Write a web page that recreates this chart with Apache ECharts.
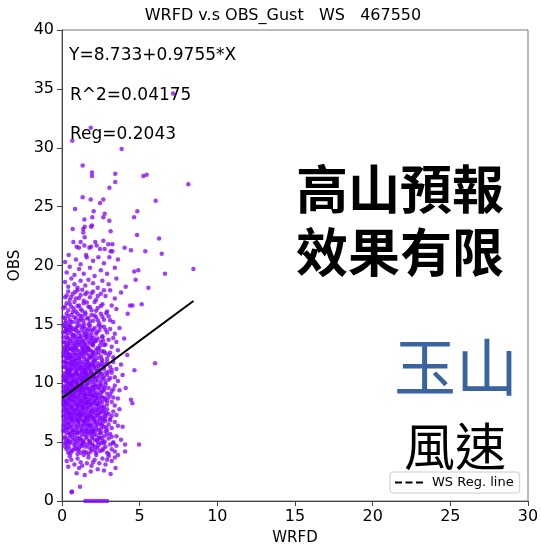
<!DOCTYPE html>
<html>
<head>
<meta charset="utf-8">
<script src="https://cdn.jsdelivr.net/npm/echarts@6/dist/echarts.min.js"></script>
<style>
  html, body { margin: 0; padding: 0; background: #fff; }
  #chart { width: 541px; height: 546px; }
</style>
</head>
<body>
<div id="chart"></div>
<script>
// WRFD forecast wind (x) vs observed gust (y), station 467550, as [WRFD, OBS] pairs
const calmGust = [
  [1.5,0],[1.7,0],[1.9,0],[2.1,0],[2.3,0],[2.5,0],[2.7,0],[2.9,0],
  [0.62,0.74],[1.16,1.2],[0.64,0.8],
  [0.94,2.35],[1.46,2.2],[1.85,2.5],[3.13,2.3],[3.45,2.8],[0.4,2.9],[2.3,2.7],[1.1,2.8],[2.7,2.6],
  [0.3,3.4],[0.5,3.8],[0.8,3.1],[1.0,3.6],[1.2,3.3],[1.4,3.9],[1.6,3.2],[1.7,3.7],[1.9,3.0],[2.1,3.5],
  [2.2,3.9],[2.4,3.2],[2.6,3.6],[2.8,3.1],[3.0,3.8],[3.2,3.4],[3.4,3.7],[1.3,3.0],[0.6,3.5],[2.0,3.3],
  [3.6,3.9],[2.9,3.5],
  [0.2,4.6],[0.4,4.1],[0.5,4.9],[0.7,4.3],[0.9,4.7],[1.0,4.0],[1.1,4.5],[1.3,4.8],[1.4,4.2],[1.5,4.6],
  [1.7,4.0],[1.8,4.9],[1.9,4.4],[2.0,4.7],[2.2,4.1],[2.3,4.5],[2.5,4.9],[2.6,4.3],[2.8,4.6],[2.9,4.1],
  [3.1,4.8],[3.2,4.4],[3.4,4.2],[3.5,4.7],[0.3,4.4],[1.2,4.1],[1.6,4.8],[2.1,4.3],[2.7,4.9],[4.06,4.2],
  [0.8,4.5],[3.0,4.0]
];

const coreGust = [
  [0.15,5.3],[0.3,5.8],[0.4,5.1],[0.5,5.5],[0.6,5.9],[0.7,5.2],[0.8,5.6],[0.9,5.0],[1.0,5.4],[1.1,5.8],
  [1.2,5.2],[1.3,5.6],[1.4,5.0],[1.5,5.9],[1.6,5.3],[1.7,5.7],[1.8,5.1],[1.9,5.5],[2.0,5.9],[2.1,5.2],
  [2.2,5.6],[2.3,5.0],[2.4,5.4],[2.5,5.8],[2.6,5.1],[2.7,5.5],[2.8,5.9],[3.0,5.3],[3.1,5.7],[3.3,5.0],
  [3.5,5.5],[0.25,5.0],[0.55,5.7],[1.05,5.1],[1.45,5.7],[1.85,5.9],[2.35,5.3],[4.96,4.8],[4.06,4.8],[3.8,5.2],
  [0.95,5.75],
  [0.1,6.4],[0.2,6.9],[0.3,6.1],[0.4,6.6],[0.5,6.3],[0.6,6.8],[0.7,6.0],[0.8,6.5],[0.9,6.9],[1.0,6.2],
  [1.1,6.7],[1.2,6.4],[1.3,6.0],[1.4,6.8],[1.5,6.3],[1.6,6.6],[1.7,6.1],[1.8,6.9],[1.9,6.4],[2.0,6.0],
  [2.1,6.7],[2.2,6.2],[2.3,6.5],[2.4,6.9],[2.5,6.1],[2.6,6.6],[2.7,6.3],[2.8,6.8],[2.9,6.0],[3.0,6.5],
  [3.2,6.2],[3.4,6.7],[3.6,6.4],[0.35,6.55],[0.65,6.25],[1.15,6.95],[1.35,6.45],[1.65,6.85],[1.95,6.15],[2.15,6.45],
  [0.85,6.05],[2.45,6.55],[0.15,6.75],[1.55,6.05],[3.9,6.3],
  [0.1,7.2],[0.2,7.7],[0.3,7.0],[0.4,7.5],[0.5,7.9],[0.6,7.3],[0.7,7.6],[0.8,7.1],[0.9,7.8],[1.0,7.4],
  [1.1,7.0],[1.2,7.7],[1.3,7.3],[1.4,7.9],[1.5,7.5],[1.6,7.1],[1.7,7.6],[1.8,7.2],[1.9,7.8],[2.0,7.4],
  [2.1,7.0],[2.2,7.7],[2.3,7.3],[2.4,7.9],[2.5,7.5],[2.6,7.1],[2.7,7.6],[2.8,7.2],[2.9,7.8],[3.0,7.4],
  [3.1,7.0],[3.3,7.6],[3.5,7.3],[0.25,7.45],[0.45,7.15],[0.65,7.85],[0.85,7.45],[1.05,7.65],[1.25,7.15],[1.45,7.35],
  [1.65,7.95],[1.85,7.55],[2.05,7.85],[2.25,7.25],[0.15,7.95],[0.55,7.55],[1.15,7.35],[3.7,7.8],[2.65,7.85],
  [0.1,8.5],[0.2,8.1],[0.3,8.8],[0.4,8.3],[0.5,8.6],[0.6,8.0],[0.7,8.9],[0.8,8.4],[0.9,8.2],[1.0,8.7],
  [1.1,8.3],[1.2,8.9],[1.3,8.5],[1.4,8.1],[1.5,8.8],[1.6,8.4],[1.7,8.0],[1.8,8.6],[1.9,8.2],[2.0,8.9],
  [2.1,8.5],[2.2,8.1],[2.3,8.7],[2.4,8.3],[2.5,8.9],[2.6,8.4],[2.7,8.0],[2.8,8.6],[2.9,8.2],[3.0,8.8],
  [3.2,8.4],[3.4,8.1],[3.6,8.7],[4.44,8.6],[4.53,8.3],[0.25,8.35],[0.45,8.95],[0.65,8.45],[0.85,8.75],[1.05,8.05],
  [1.25,8.25],[1.45,8.55],[1.65,8.85],[1.85,8.15],[2.05,8.45],[2.25,8.35],[0.35,8.15],[0.15,8.65],[1.55,8.25],[2.75,8.75],
  [0.1,9.3],[0.2,9.8],[0.3,9.1],[0.4,9.6],[0.5,9.0],[0.6,9.4],[0.7,9.9],[0.8,9.2],[0.9,9.7],[1.0,9.5],
  [1.1,9.0],[1.2,9.6],[1.3,9.2],[1.4,9.8],[1.5,9.4],[1.6,9.9],[1.7,9.1],[1.8,9.5],[1.9,9.0],[2.0,9.7],
  [2.1,9.3],[2.2,9.8],[2.3,9.0],[2.4,9.5],[2.5,9.2],[2.6,9.7],[2.7,9.4],[2.8,9.9],[2.9,9.1],[3.0,9.6],
  [3.2,9.3],[3.4,9.8],[3.7,9.4],[0.25,9.55],[0.45,9.25],[0.65,9.75],[0.85,9.45],[1.05,9.15],[1.25,9.85],[1.45,9.05],
  [1.65,9.55],[1.85,9.25],[2.05,9.05],[2.35,9.65],[0.15,9.05],[0.55,9.85],[1.15,9.45],[0.95,9.95],[3.1,9.05],[4.1,9.6],
  [0.1,10.6],[0.2,10.2],[0.3,10.9],[0.4,10.4],[0.5,10.7],[0.6,10.1],[0.7,10.5],[0.8,10.8],[0.9,10.3],[1.0,10.0],
  [1.1,10.7],[1.2,10.4],[1.3,10.9],[1.4,10.2],[1.5,10.6],[1.6,10.0],[1.7,10.8],[1.8,10.3],[1.9,10.7],[2.0,10.1],
  [2.1,10.5],[2.2,10.9],[2.3,10.2],[2.4,10.6],[2.5,10.0],[2.6,10.8],[2.7,10.4],[2.8,10.1],[2.9,10.7],[3.0,10.3],
  [3.2,10.9],[3.4,10.5],[3.6,10.2],[0.25,10.35],[0.45,10.95],[0.65,10.65],[0.85,10.15],[1.05,10.45],[1.25,10.05],[1.45,10.85],
  [1.65,10.35],[1.85,10.95],[2.15,10.25],[0.15,10.85],[0.35,10.05],[0.75,10.25],[1.35,10.55],[2.45,10.85],[3.9,10.7],
  [0.1,11.4],[0.2,11.9],[0.3,11.2],[0.4,11.7],[0.5,11.0],[0.6,11.5],[0.7,11.8],[0.8,11.3],[0.9,11.6],[1.0,11.1],
  [1.1,11.9],[1.2,11.4],[1.3,11.0],[1.4,11.7],[1.5,11.3],[1.6,11.8],[1.7,11.2],[1.8,11.6],[1.9,11.0],[2.0,11.5],
  [2.1,11.9],[2.2,11.3],[2.3,11.7],[2.4,11.1],[2.5,11.5],[2.6,11.9],[2.7,11.2],[2.8,11.6],[3.0,11.0],[3.1,11.4],
  [3.3,11.8],[3.5,11.2],[4.66,11.1],[5.99,11.7],[0.25,11.55],[0.55,11.25],[0.85,11.95],[1.15,11.55],[1.45,11.15],[1.75,11.45],
  [2.05,11.25],[0.35,11.05],[0.95,11.35],[3.8,11.6],
  [0.1,12.3],[0.2,12.8],[0.3,12.1],[0.4,12.5],[0.5,12.9],[0.6,12.2],[0.7,12.6],[0.8,12.0],[0.9,12.4],[1.0,12.8],
  [1.1,12.1],[1.2,12.5],[1.3,12.9],[1.4,12.3],[1.5,12.7],[1.6,12.0],[1.7,12.4],[1.8,12.8],[1.9,12.2],[2.0,12.6],
  [2.1,12.0],[2.2,12.5],[2.4,12.9],[2.5,12.3],[2.7,12.7],[2.9,12.1],[3.1,12.6],[3.3,12.2],[3.6,12.8],[0.25,12.65],
  [0.45,12.15],[0.75,12.85],[1.05,12.35],[1.35,12.65],[1.65,12.95],[1.95,12.45],[2.3,12.15],[0.15,12.95],[4.2,12.4],[2.8,12.55],
  [0.1,13.5],[0.2,13.1],[0.3,13.8],[0.4,13.3],[0.5,13.6],[0.6,13.0],[0.7,13.9],[0.8,13.4],[0.9,13.7],[1.0,13.2],
  [1.1,13.5],[1.2,13.9],[1.3,13.1],[1.4,13.6],[1.5,13.3],[1.6,13.8],[1.7,13.0],[1.8,13.4],[1.9,13.7],[2.0,13.2],
  [2.2,13.6],[2.3,13.0],[2.5,13.5],[2.6,13.9],[2.8,13.3],[3.0,13.7],[3.2,13.1],[3.5,13.5],[0.35,13.45],[0.85,13.05],
  [1.25,13.45],[1.55,13.95],[2.05,13.85],[4.0,13.8],[2.7,13.25],
  [0.1,14.3],[0.2,14.8],[0.3,14.0],[0.4,14.5],[0.5,14.9],[0.6,14.2],[0.7,14.6],[0.8,14.1],[0.9,14.7],[1.0,14.4],
  [1.2,14.0],[1.3,14.8],[1.4,14.3],[1.5,14.6],[1.7,14.1],[1.8,14.9],[1.9,14.4],[2.1,14.7],[2.2,14.2],[2.4,14.5],
  [2.6,14.0],[2.7,14.8],[2.9,14.3],[3.1,14.6],[3.4,14.2],[0.25,14.65],[1.1,14.95],[1.65,14.45],[2.35,14.9],[3.7,14.7]
];

// Second pass through the crowded low-WRFD block (4 to 18 m/s observed)
const coreGustFill = [
  [0.35,4.75],[0.6,4.25],[0.75,4.85],[1.05,4.3],[1.25,4.65],[1.55,4.15],[1.75,4.55],[1.95,4.85],[2.15,4.6],[2.45,4.25],
  [0.15,4.9],[0.95,4.4],[1.35,4.95],[1.85,4.2],[2.35,4.75],[0.55,4.05],[1.15,4.8],[2.65,4.45],[3.3,4.9],[0.45,4.55],
  [0.2,5.45],[0.35,5.25],[0.45,5.75],[0.65,5.45],[0.75,5.85],[0.85,5.25],[1.15,5.35],[1.25,5.95],[1.35,5.15],[1.55,5.45],
  [1.65,5.85],[1.75,5.05],[1.95,5.35],[2.05,5.65],[2.15,5.95],[2.25,5.15],[2.45,5.75],[2.55,5.35],[2.75,5.05],[2.9,5.65],
  [0.1,5.9],[0.5,5.05],[1.0,5.85],[1.9,5.8],[3.2,5.45],
  [0.25,6.25],[0.45,6.85],[0.55,6.45],[0.75,6.75],[0.95,6.35],[1.05,6.55],[1.25,6.15],[1.45,6.6],[1.55,6.95],[1.75,6.35],
  [1.85,6.55],[2.05,6.85],[2.25,6.75],[2.35,6.05],[2.55,6.4],[2.75,6.95],[0.1,6.05],[0.65,6.95],[1.35,6.8],[2.85,6.25],
  [0.4,6.15],[1.0,6.8],[1.7,6.45],[3.1,6.85],[0.2,6.5],[2.6,6.85],
  [0.2,7.25],[0.35,7.7],[0.45,7.4],[0.6,7.05],[0.75,7.35],[0.95,7.15],[1.0,7.9],[1.2,7.5],[1.35,7.65],[1.5,7.05],
  [1.55,7.8],[1.75,7.35],[1.9,7.15],[1.95,7.65],[2.15,7.5],[2.3,7.8],[2.45,7.1],[2.55,7.65],[2.75,7.3],[0.1,7.6],
  [0.5,7.2],[0.8,7.7],[1.3,7.95],[1.65,7.25],[2.0,7.1],[2.4,7.5],[2.85,7.5],[0.3,7.85],[1.1,7.25],[3.2,7.25],
  [0.2,8.5],[0.3,8.3],[0.45,8.7],[0.55,8.2],[0.7,8.55],[0.75,8.1],[0.95,8.45],[1.0,8.15],[1.15,8.65],[1.3,8.05],
  [1.35,8.75],[1.5,8.35],[1.6,8.65],[1.75,8.45],[1.9,8.75],[2.0,8.3],[2.15,8.9],[2.3,8.2],[2.45,8.55],[2.6,8.8],
  [0.1,8.2],[0.6,8.8],[0.9,8.9],[1.2,8.45],[1.7,8.3],[2.2,8.7],[2.55,8.05],[0.4,8.55],[1.45,8.95],[2.9,8.5],[3.3,8.8],
  [0.2,9.35],[0.35,9.8],[0.45,9.5],[0.55,9.15],[0.7,9.6],[0.75,9.05],[0.9,9.35],[1.0,9.8],[1.2,9.25],[1.3,9.7],
  [1.35,9.45],[1.5,9.15],[1.6,9.65],[1.75,9.35],[1.9,9.7],[2.0,9.45],[2.15,9.6],[2.25,9.15],[2.45,9.85],[2.6,9.3],
  [0.1,9.65],[0.3,9.3],[0.65,9.2],[0.95,9.55],[1.15,9.75],[1.4,9.55],[1.8,9.05],[2.1,9.9],[2.75,9.6],[0.5,9.95],[3.3,9.5],
  [0.2,10.5],[0.3,10.2],[0.4,10.8],[0.55,10.45],[0.6,10.75],[0.7,10.15],[0.85,10.6],[0.95,10.1],[1.0,10.8],[1.15,10.3],
  [1.2,10.65],[1.4,10.45],[1.5,10.9],[1.55,10.25],[1.7,10.55],[1.8,10.05],[1.95,10.4],[2.05,10.75],[2.25,10.5],[2.35,10.95],
  [2.55,10.3],[0.1,10.25],[0.5,10.05],[0.9,10.9],[1.3,10.25],[1.6,10.7],[2.0,10.55],[2.65,10.55],[0.35,10.65],[2.85,10.9],[3.1,10.45],
  [0.2,11.35],[0.3,11.75],[0.45,11.4],[0.55,11.85],[0.65,11.15],[0.75,11.5],[0.9,11.05],[1.0,11.7],[1.1,11.3],[1.25,11.8],
  [1.35,11.35],[1.5,11.55],[1.55,11.05],[1.7,11.75],[1.8,11.25],[1.95,11.65],[2.1,11.5],[2.25,11.05],[2.35,11.45],[2.55,11.7],
  [0.1,11.8],[0.4,11.1],[0.8,11.75],[1.2,11.15],[1.65,11.45],[2.0,11.85],[2.7,11.4],[0.6,11.65],[2.9,11.8],[3.2,11.15],
  [0.2,12.4],[0.35,12.75],[0.45,12.45],[0.55,12.05],[0.65,12.85],[0.7,12.3],[0.85,12.55],[0.95,12.15],[1.1,12.7],[1.2,12.2],
  [1.3,12.45],[1.45,12.05],[1.55,12.55],[1.7,12.8],[1.8,12.25],[1.95,12.7],[2.05,12.3],[2.2,12.85],[2.35,12.6],[2.55,12.05],
  [0.1,12.6],[0.5,12.4],[0.9,12.95],[1.4,12.8],[1.75,12.1],[2.6,12.7],[0.3,12.2],[3.0,12.4],
  [0.2,13.45],[0.3,13.15],[0.45,13.8],[0.55,13.35],[0.65,13.6],[0.75,13.2],[0.95,13.45],[1.05,13.75],[1.15,13.25],[1.3,13.65],
  [1.45,13.35],[1.6,13.1],[1.7,13.55],[1.85,13.85],[1.95,13.3],[2.1,13.55],[2.3,13.8],[2.45,13.2],[0.1,13.9],[0.4,13.0],
  [0.9,13.95],[1.4,13.0],[2.0,13.45],[2.65,13.6],[3.3,13.85],
  [0.2,14.4],[0.35,14.25],[0.45,14.75],[0.55,14.45],[0.7,14.05],[0.85,14.5],[1.0,14.85],[1.1,14.25],[1.25,14.55],[1.4,14.85],
  [1.55,14.2],[1.75,14.65],[1.9,14.1],[2.0,14.55],[2.25,14.35],[2.5,14.8],[0.1,14.9],[0.6,14.75],[1.45,14.05],[2.8,14.55],[0.3,14.5],
  [0.2,15.5],[0.4,15.7],[0.55,15.2],[0.8,15.6],[0.95,15.15],[1.15,15.75],[1.35,15.35],[1.5,15.85],[1.8,15.25],[2.1,15.75],
  [2.3,15.35],[2.6,15.65],[0.25,15.25],[1.7,15.55],[3.1,15.35],
  [0.2,16.5],[0.5,16.75],[0.75,16.35],[1.0,16.55],[1.3,16.15],[1.6,16.85],[1.8,16.45],[2.2,16.15],[2.5,16.55],
  [0.3,17.45],[0.6,17.35],[0.85,17.75],[1.1,17.25],[1.5,17.55],[1.9,17.65],[2.3,17.4],[2.7,17.9]
];

const highGust = [
  [0.1,15.6],[0.2,15.1],[0.3,15.9],[0.5,15.4],[0.6,15.8],[0.7,15.2],[0.9,15.5],[1.0,15.9],[1.1,15.3],[1.3,15.7],
  [1.4,15.1],[1.6,15.5],[1.7,15.0],[1.9,15.8],[2.0,15.3],[2.2,15.6],[2.4,15.1],[2.5,15.9],[2.7,15.4],[3.0,15.7],
  [3.3,15.2],[0.4,15.0],[1.2,15.45],[2.85,15.95],[4.23,15.9],
  [0.1,16.4],[0.3,16.8],[0.4,16.2],[0.6,16.5],[0.8,16.9],[0.9,16.1],[1.1,16.6],[1.2,16.3],[1.4,16.8],[1.5,16.0],
  [1.7,16.5],[1.9,16.2],[2.1,16.9],[2.3,16.4],[2.6,16.7],[2.9,16.1],[3.2,16.6],[3.5,16.3],[4.38,16.6],[4.53,16.6],
  [5.13,16.7],[0.7,16.05],
  [0.2,17.3],[0.4,17.8],[0.5,17.1],[0.7,17.6],[0.9,17.2],[1.0,17.9],[1.2,17.5],[1.4,17.0],[1.6,17.7],[1.8,17.3],
  [2.0,17.8],[2.2,17.1],[2.5,17.6],[2.8,17.4],[3.1,17.9],[3.4,17.2],[3.8,17.7],[1.3,17.95],
  [0.2,18.6],[0.4,18.2],[0.6,18.9],[0.8,18.4],[1.0,18.1],[1.2,18.7],[1.5,18.3],[1.7,18.8],[2.0,18.5],[2.3,18.1],
  [2.6,18.7],[3.0,18.4],[4.10,18.2],[4.74,18.8],[5.56,18.1],[3.5,18.9],
  [0.3,19.4],[0.5,19.9],[0.8,19.2],[1.1,19.7],[1.4,19.3],[1.8,19.8],[2.1,19.1],[2.5,19.6],[2.9,19.3],[3.4,19.8],
  [4.65,19.5],[4.91,19.6],[6.63,19.3],[8.46,19.7],
  [0.43,20.9],[1.55,20.9],[1.59,20.7],[2.34,20.7],[3.05,20.7],[6.42,21.0],[5.36,21.2],[3.13,21.2],[3.24,21.2],[2.75,21.4],
  [2.45,21.4],[4.44,21.3],[4.03,21.5],[0.2,20.3],[0.9,20.5],[1.2,20.1],[2.0,20.4],[2.7,20.2],[3.6,20.5],
  [0.94,21.6],[1.09,21.5],[1.44,21.7],[1.76,21.5],[1.87,21.6],[2.23,21.7],[0.73,22.0],[1.20,22.0],[2.14,22.0],[2.66,22.1],
  [2.98,21.8],[3.24,21.8],[1.37,22.8],[1.46,22.4],[4.83,22.6],[6.25,22.3],[3.13,22.9],
  [0.69,23.1],[1.37,23.1],[1.46,23.3],[1.93,23.4],[1.87,23.3],[1.44,23.9],[3.05,23.8],
  [0.84,24.8],[2.04,24.6],[4.85,24.6],[4.64,24.1],[2.75,24.4],[2.66,24.1],[1.95,24.1],
  [1.33,25.8],[1.85,25.6],[2.66,25.6],[2.45,25.3],[6.03,25.5],
  [3.05,26.6],[8.13,26.9],[3.43,27.1],[1.93,27.6],[1.93,27.9],[3.43,27.8],[5.24,27.6],[5.45,27.7],[1.33,28.5],[3.84,29.9],
  [0.66,30.6],[1.85,31.7],[7.15,34.6]
];

// Least-squares fit reported on the chart
const regIntercept = 8.733;
const regSlope = 0.9755;
const regR2 = 0.04175;
const regCoef = 0.2043;
const regXRange = [0, 8.46];

const xTicks = { min: 0, max: 30, interval: 5 };
const yTicks = { min: 0, max: 40, interval: 5 };

const gustPoints = calmGust.concat(coreGust, coreGustFill, highGust);
const regLine = regXRange.map(x => [x, regIntercept + regSlope * x]);

const chart = echarts.init(document.getElementById('chart'), null, { renderer: 'canvas' });
const baseFont = 'DejaVu Sans, Noto Sans, sans-serif';
const cjkFont = '"Noto Sans CJK TC", "Noto Sans CJK SC", sans-serif';

chart.setOption({
  backgroundColor: '#fff',
  animation: false,
  grid: {
    left: 62, right: 13, top: 30, bottom: 45,
    outerBoundsMode: 'none', containLabel: false,
    show: true, borderColor: '#777', borderWidth: 1
  },
  xAxis: {
    type: 'value', min: xTicks.min, max: xTicks.max, interval: xTicks.interval,
    name: 'WRFD', nameLocation: 'middle', nameGap: 30,
    nameTextStyle: { fontFamily: baseFont, fontSize: 15, color: '#000' },
    axisLine: { show: true, lineStyle: { color: '#444', width: 1 } },
    axisTick: { show: true, length: 5, lineStyle: { color: '#444' } },
    axisLabel: { fontFamily: baseFont, fontSize: 16, color: '#000', margin: 8 },
    splitLine: { show: false }
  },
  yAxis: {
    type: 'value', min: yTicks.min, max: yTicks.max, interval: yTicks.interval,
    name: 'OBS', nameLocation: 'middle', nameGap: 34,
    nameTextStyle: { fontFamily: baseFont, fontSize: 15, color: '#000' },
    axisLine: { show: true, lineStyle: { color: '#444', width: 1 } },
    axisTick: { show: true, length: 5, lineStyle: { color: '#444' } },
    axisLabel: { fontFamily: baseFont, fontSize: 16, color: '#000', margin: 8 },
    splitLine: { show: false }
  },
  legend: {
    left: 390, top: 472,
    data: [{ name: 'WS Reg. line', icon: 'path://M0,0h7v2h-7z M10.5,0h7v2h-7z M21,0h7v2h-7z' }],
    itemWidth: 28, itemHeight: 2,
    padding: [4, 6, 4, 5],
    backgroundColor: 'rgba(255,255,255,0.85)',
    borderColor: '#ccc', borderWidth: 1, borderRadius: 3,
    textStyle: { fontFamily: baseFont, fontSize: 13, color: '#000', padding: [0, 0, 0, 4] }
  },
  graphic: [
    { type: 'text', x: 283, y: 16, z: 10,
      style: { text: 'WRFD v.s OBS_Gust   WS   467550', font: '16px ' + baseFont, fill: '#000', textAlign: 'center', textVerticalAlign: 'middle' } },
    { type: 'text', x: 69, y: 56, z: 10,
      style: { text: 'Y=' + regIntercept + '+' + regSlope + '*X', font: '17px ' + baseFont, fill: '#000', textVerticalAlign: 'middle' } },
    { type: 'text', x: 70, y: 96, z: 10,
      style: { text: 'R^2=' + regR2, font: '17px ' + baseFont, fill: '#000', textVerticalAlign: 'middle' } },
    { type: 'text', x: 70, y: 135, z: 10,
      style: { text: 'Reg=' + regCoef, font: '17px ' + baseFont, fill: '#000', textVerticalAlign: 'middle' } },
    { type: 'text', x: 400, y: 189, z: 10,
      style: { text: '高山預報', font: 'bold 52px ' + cjkFont, fill: '#000', textAlign: 'center', textVerticalAlign: 'middle' } },
    { type: 'text', x: 400, y: 252, z: 10,
      style: { text: '效果有限', font: 'bold 52px ' + cjkFont, fill: '#000', textAlign: 'center', textVerticalAlign: 'middle' } },
    { type: 'text', x: 456, y: 367, z: 10,
      style: { text: '玉山', font: '62px ' + cjkFont, fill: '#3a64a0', textAlign: 'center', textVerticalAlign: 'middle' } },
    { type: 'text', x: 455, y: 447, z: 10,
      style: { text: '風速', font: '51px ' + cjkFont, fill: '#000', textAlign: 'center', textVerticalAlign: 'middle' } }
  ],
  series: [
    {
      type: 'scatter',
      data: gustPoints,
      symbolSize: 4.5,
      itemStyle: { color: '#8000ff', opacity: 0.75 },
      z: 2
    },
    {
      name: 'WS Reg. line',
      type: 'line',
      data: regLine,
      symbol: 'none',
      lineStyle: { color: '#000', width: 2 },
      itemStyle: { color: '#000' },
      z: 3
    }
  ]
});
</script>
</body>
</html>
